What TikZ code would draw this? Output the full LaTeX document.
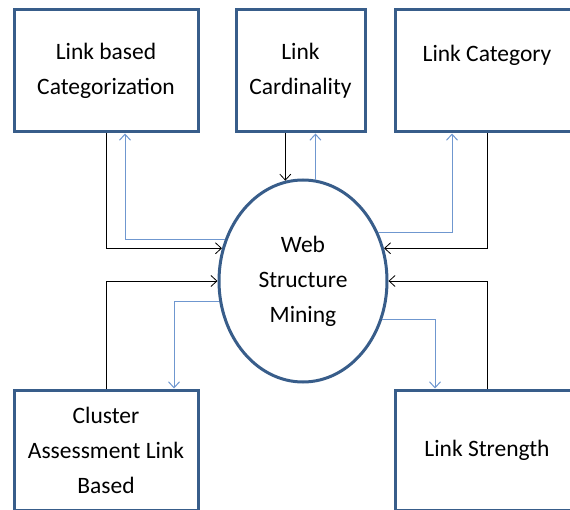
\documentclass[tikz,border=0pt]{standalone}
\usepackage{fontspec}
\setmainfont{Carlito}
\usetikzlibrary{shapes.geometric,arrows.meta,calc}
\definecolor{boxblue}{RGB}{56,93,138}
\definecolor{linkblue}{RGB}{111,151,207}

\begin{document}
\begin{tikzpicture}[x=1pt,y=-1pt]
      \tikzstyle{every node}=[draw=boxblue,line width=3pt,align=center,
			      inner sep=0pt,font=\fontsize{23.5}{35}\selectfont]
      \tikzstyle{box}=[rectangle,minimum width=184pt,minimum height=122pt]
      \tikzstyle{tomine}=[draw=black,line width=0.8pt,
			      -{Straight Barb[length=6pt,width=11pt]}]
      \tikzstyle{frommine}=[draw=linkblue,line width=1pt,
			      -{Straight Barb[length=6pt,width=11pt]}]
      \useasboundingbox (0,0) rectangle (570,510);
      \clip (0,0) rectangle (570,510);
      \node (link1) [box] at (106,71) {Link based\\Categorization};
      \node (link2) [box,minimum width=129pt] at (300.5,71) {Link\\Cardinality};
      \node (link3) [box] at (487,71) {Link Category\\~};
      \node (link4) [box,minimum height=120pt] at (106,450)
	  {Cluster\\Assessment Link\\Based};
      \node (link5) [box,minimum height=120pt] at (487,450) {Link Strength};
      \node (mining) [ellipse,minimum width=168pt,minimum height=202pt]
	  at (303,281) {Web\\Structure\\Mining};
      \draw[tomine] (link1.south) |- (mining.158);
      \draw[frommine] (mining.152) -| ($(link1.south)+(19,0)$);
      \draw[tomine] (mining.100 |- link2.south) -- (mining.100);
      \draw[frommine] (mining.83) -- (mining.83 |- link2.south);
      \draw[frommine] (mining.33) -| ($(link3.south)+(-35,0)$);
      \draw[tomine] (link3.south) |- (mining.22);
      \draw[tomine] (link4.north) |- (mining.west);
      \draw[frommine] (mining.194) -| ($(link4.north)+(68,0)$);
      \draw[frommine] (mining.-26) -| ($(link5.north)+(-52,0)$);
      \draw[tomine] (link5.north) |- (mining.east);
  \end{tikzpicture}
\end{document}
